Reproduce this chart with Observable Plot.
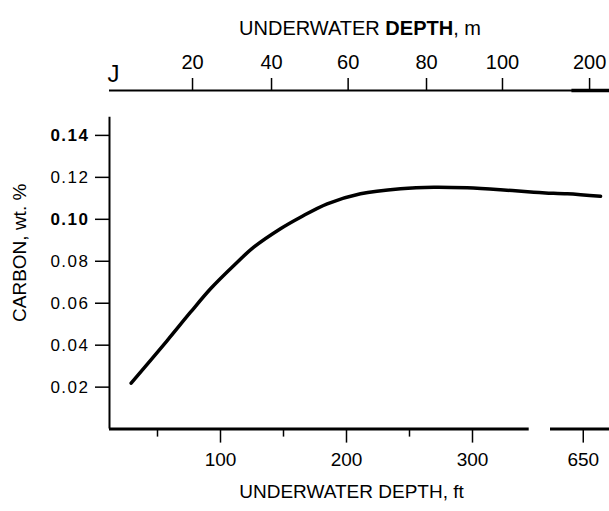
<!DOCTYPE html>
<html><head><meta charset="utf-8">
<script src="https://cdn.jsdelivr.net/npm/d3@7"></script>
<script src="https://cdn.jsdelivr.net/npm/@observablehq/plot@0.6"></script>
<style>
html,body{margin:0;padding:0;background:#fff;}
#wrap{position:relative;width:609px;height:511px;overflow:hidden;}
#title{position:absolute;top:18px;left:0;width:609px;box-sizing:border-box;padding-left:111px;text-align:center;font:20px/20px "Liberation Sans",Arial,sans-serif;color:#000;white-space:nowrap;}
g[aria-label="y-axis tick label"] text{letter-spacing:1.5px;}
</style></head><body>
<div id="wrap"><div id="chart"></div><div id="title">UNDERWATER <b>DEPTH</b>, m</div></div>
<script>
// Curve: underwater depth (ft) vs carbon (wt. %)
const depthFt = [29.1, 57.7, 76.2, 92.1, 110.6, 126.4, 147.6, 163.5, 184.7, 211.1, 242.9, 269.3, 295.8, 322.2, 405, 558, 637.3, 663.7];
const carbonPct = [0.0219, 0.0422, 0.0557, 0.0669, 0.0780, 0.0867, 0.0955, 0.1010, 0.1074, 0.1122, 0.1146, 0.1153, 0.1150, 0.1141, 0.1129, 0.1126, 0.1122, 0.1110];

// Axis ticks
const ftMajorTicks = [100, 200, 300, 650];
const ftMinorTicks = [50, 150, 250];
const carbonTicksBold = [0.10, 0.14];
const carbonTicksPlain = [0.02, 0.04, 0.06, 0.08, 0.12];
// Meter scale on top: labels and where they sit along the ft axis
const meterLabels = ["20", "40", "60", "80", "100", "200"];
const meterAtFt = [77.8, 140.5, 201.3, 263.5, 323.8, 655];
const strayMark = ["J"];
const strayMarkFt = [15];

// Axis extents (ft / wt. %)
const axisStartFt = 11.9;
const axisEndFt = 672;
const bottomAxisSegments = [{from: 11.9, to: 345}, {from: 624, to: 672}];
const leftAxisTop = 0.1486;
const yTop = 0.1614;

const xTitle = ["UNDERWATER DEPTH, ft"];
const yTitle = ["CARBON, wt. %"];

const curve = depthFt.map((d, i) => ({ft: d, c: carbonPct[i]}));
const meterLabelByFt = new Map(meterAtFt.map((d, i) => [d, meterLabels[i]]));

const chart = Plot.plot({
  width: 609,
  height: 511,
  marginTop: 90,
  marginBottom: 82.4,
  marginLeft: 109,
  marginRight: 0,
  style: {fontFamily: '"Liberation Sans", Arial, sans-serif', background: "white", color: "black"},
  x: {type: "linear", domain: [0, 345, 624, 672], range: [94, 528.7, 550, 610.5]},
  y: {domain: [0, yTop]},
  marks: [
    // axis lines
    Plot.ruleX([axisStartFt], {y1: 0, y2: leftAxisTop, strokeWidth: 2}),
    Plot.ruleY(bottomAxisSegments, {y: 0, x1: "from", x2: "to", strokeWidth: 3}),
    Plot.ruleY([yTop], {x1: axisStartFt, x2: axisEndFt, strokeWidth: 2}),
    Plot.ruleY([yTop], {x1: 641, x2: axisEndFt, strokeWidth: 3.5}),
    // y axis
    Plot.axisY(carbonTicksPlain, {tickSize: 14, tickPadding: 6, fontSize: 17, strokeWidth: 1.5, tickFormat: d3.format(".2f"), label: null}),
    Plot.axisY(carbonTicksBold, {tickSize: 14, tickPadding: 6, fontSize: 17, fontWeight: "bold", strokeWidth: 1.5, tickFormat: d3.format(".2f"), label: null}),
    // bottom axis
    Plot.axisX(ftMajorTicks, {anchor: "bottom", tickSize: 14, tickPadding: 9, fontSize: 19, strokeWidth: 1.5, tickFormat: d3.format("d"), label: null}),
    Plot.axisX(ftMinorTicks, {anchor: "bottom", tickSize: 8, strokeWidth: 1.5, tickFormat: () => "", label: null}),
    // top (meter) axis
    Plot.axisX(meterAtFt, {anchor: "top", tickSize: 13, tickPadding: 9, fontSize: 20, strokeWidth: 1.5, tickFormat: d => meterLabelByFt.get(d), label: null}),
    Plot.text(strayMark, {x: strayMarkFt, frameAnchor: "top", dy: -9, fontSize: 24, lineAnchor: "bottom"}),
    // titles
    Plot.text(yTitle, {frameAnchor: "left", textAnchor: "middle", rotate: -90, dx: -90, dy: -7, fontSize: 19, lineAnchor: "middle"}),
    Plot.text(xTitle, {frameAnchor: "bottom", textAnchor: "middle", dx: -8, dy: 62.4, fontSize: 19, lineAnchor: "middle"}),
    // data curve
    Plot.line(curve, {x: "ft", y: "c", curve: "catmull-rom", strokeWidth: 3.5, stroke: "black"})
  ]
});
document.getElementById("chart").appendChild(chart);
</script>
</body></html>
